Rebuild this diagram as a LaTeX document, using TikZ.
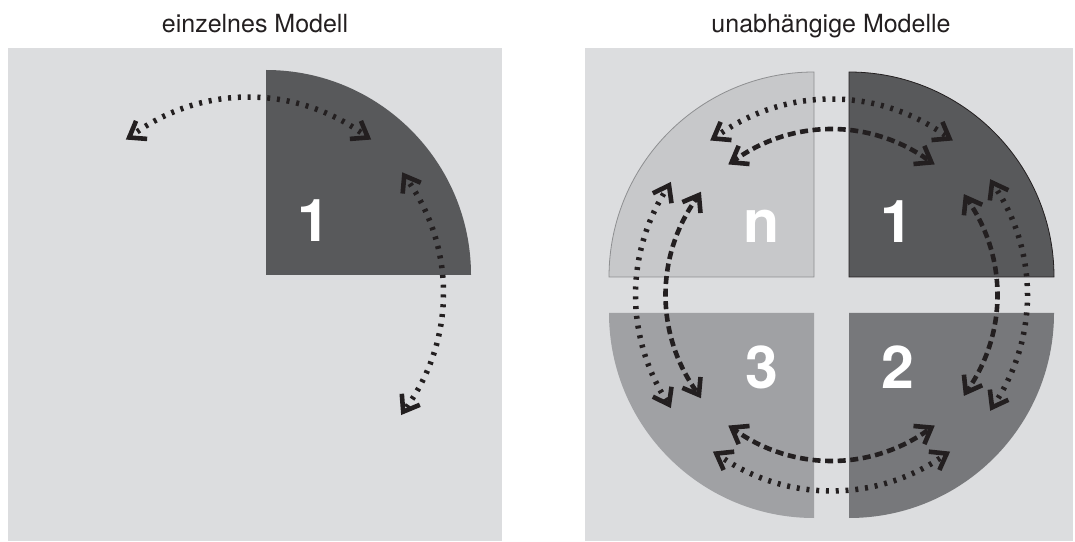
\documentclass[tikz,border=0pt]{standalone}
\usepackage{fontspec}
\setmainfont{TeX Gyre Heros}
\definecolor{bg}{HTML}{DCDDDF}
\definecolor{qn}{HTML}{C7C8CA}
\definecolor{qnline}{HTML}{8E8F91}
\definecolor{qone}{HTML}{58595B}
\definecolor{qthree}{HTML}{A0A1A4}
\definecolor{qtwo}{HTML}{77787B}
\definecolor{ink}{HTML}{231F20}
% chevron tip: #1 centre, #2 radius, #3 angle on ring, #4 direction the tip points
\newcommand\chevat[4]{%
  \pgfmathsetmacro\cga{#4+180-36}%
  \pgfmathsetmacro\cgb{#4+180+36}%
  \draw[chevron] ([shift={(#3:#2)}]#1) ++(\cga:18) -- ([shift={(#3:#2)}]#1) -- ++(\cgb:18);
}
% #1 line style, #2 centre, #3 radius, #4 start angle, #5 end angle
\newcommand\ringarc[5]{%
  \pgfmathsetmacro\rs{sign(#5-#4)}%
  \pgfmathsetmacro\rda{#4-90*\rs+6*\rs}%
  \pgfmathsetmacro\rdb{#5+90*\rs-6*\rs}%
  \draw[#1] ([shift={(#4:#3)}]#2) arc[start angle=#4,end angle=#5,radius=#3];
  \chevat{#2}{#3}{#4}{\rda}
  \chevat{#2}{#3}{#5}{\rdb}
}
\begin{document}
\begin{tikzpicture}[x=1pt,y=1pt,
  chevron/.style={draw=ink,solid,line width=4.6pt,line cap=butt,line join=miter},
  dotarc/.style={draw=ink,line width=5.5pt,dash pattern=on 3pt off 6.8pt},
  dasharc/.style={draw=ink,line width=4.6pt,dash pattern=on 8pt off 4.6pt},
  num/.style={text=white,font=\fontsize{59}{60}\selectfont\bfseries,anchor=base,inner sep=0pt},
  title/.style={font=\fontsize{25}{28}\selectfont,anchor=base,text=ink,inner sep=0pt}]
\useasboundingbox (0,0) rectangle (1075,541);
\fill[white] (0,0) rectangle (1075,541);
% panels
\fill[bg] (8,0) rectangle (502,493);
\fill[bg] (585,0) rectangle (1073,493);
\node[title] (tleft) at (255,508) {einzelnes Modell};
\node[title] (tright) at (831,508) {unabhängige Modelle};
% left panel
\fill[qone] (266,266) -- (266,471) arc[start angle=90,end angle=0,radius=205] -- cycle;
\node[num] (l1) at (314,299) {1};
\coordinate (CL) at (248.5,248);
\ringarc{dotarc}{CL}{196}{127.5}{52.5}
\ringarc{dotarc}{CL}{195}{37}{-37.5}
% right panel quarters
\filldraw[fill=qn,draw=qnline,line width=0.8pt] (814,264) -- (609,264) arc[start angle=180,end angle=90,radius=205] -- cycle;
\filldraw[fill=qone,draw=ink,line width=0.8pt] (849,264) -- (849,469) arc[start angle=90,end angle=0,radius=205] -- cycle;
\fill[qthree] (814,228) -- (609,228) arc[start angle=180,end angle=270,radius=205] -- cycle;
\fill[qtwo] (849,228) -- (1054,228) arc[start angle=0,end angle=-90,radius=205] -- cycle;
\node[num] (rn) at (762,298) {n};
\node[num] (r1) at (897,298) {1};
\node[num] (r3) at (762,153) {3};
\node[num] (r2) at (898,153) {2};
\coordinate (CR) at (831.5,246);
% dotted outer ring
\ringarc{dotarc}{CR}{196}{127}{53}
\ringarc{dotarc}{CR}{196}{146}{214}
\ringarc{dotarc}{CR}{196}{35}{-35}
\ringarc{dotarc}{CR}{196}{234}{306}
% dashed inner ring
\ringarc{dasharc}{CR}{166}{127}{53}
\ringarc{dasharc}{CR}{166}{143}{217}
\ringarc{dasharc}{CR}{166}{36}{-36}
\ringarc{dasharc}{CR}{166}{233}{307}
\end{tikzpicture}
\end{document}
